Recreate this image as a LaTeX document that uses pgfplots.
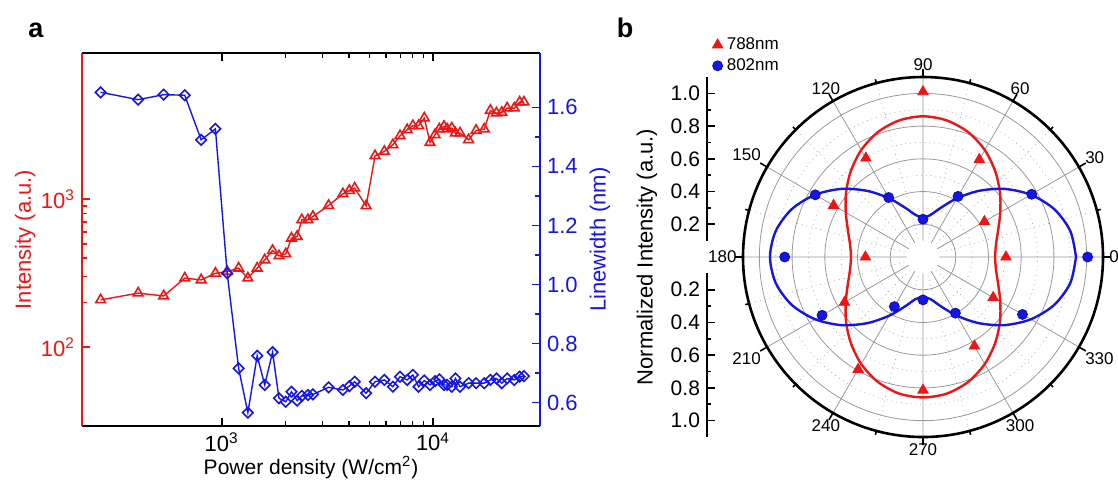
\documentclass[border=0pt]{standalone}
\usepackage{fontspec}
\setmainfont{Liberation Sans}
\usepackage{pgfplots}
\pgfplotsset{compat=1.18}
\usepackage{pgfplotstable}
\usepgfplotslibrary{polar}
\definecolor{ired}{HTML}{EE1515}
\definecolor{lblue}{HTML}{1515E6}

% panel a: power density, intensity (log), linewidth
\pgfplotstableread{
P I W
267 209 1.651
402 232 1.626
531 222 1.643
668 293 1.641
799 285 1.490
933 316 1.527
1061 325 1.038
1202 342 0.716
1329 293 0.566
1471 342 0.759
1597 389 0.660
1740 450 0.771
1866 414 0.615
2009 427 0.603
2138 545 0.637
2275 560 0.607
2393 725 0.623
2557 725 0.626
2701 764 0.628
3204 906 0.652
3745 1086 0.643
4017 1144 0.656
4257 1187 0.671
4823 901 0.632
5316 1963 0.671
5882 2099 0.677
6457 2329 0.654
6980 2679 0.688
7547 2941 0.677
8028 3130 0.694
8545 3130 0.654
9093 3527 0.675
9678 2414 0.660
10221 2721 0.673
10708 2972 0.679
11264 3097 0.660
11664 2972 0.660
12271 3018 0.654
12762 2792 0.682
13421 2792 0.654
14736 2518 0.666
15986 2911 0.666
17482 2972 0.666
18683 3974 0.677
19962 3811 0.682
21162 3851 0.666
22434 4118 0.682
24244 4118 0.677
25707 4522 0.688
26942 4522 0.690
}\powertab

% panel b: measured points
\pgfplotstableread{
a r
0 0.507
30 0.433
60 0.688
90 1.01
120 0.698
150 0.631
180 0.352
210 0.554
240 0.793
270 0.814
300 0.628
330 0.495
}\redpts
\pgfplotstableread{
a r
0 1.006
30 0.767
60 0.428
90 0.231
120 0.420
150 0.760
180 0.845
210 0.712
240 0.350
270 0.262
300 0.396
330 0.702
}\bluepts

% panel b: fitted curves, every 10 degrees
\pgfplotstableread{
a r
0 0.440
10 0.453
20 0.489
30 0.545
40 0.614
50 0.686
60 0.755
70 0.811
80 0.847
90 0.860
100 0.847
110 0.811
120 0.755
130 0.686
140 0.614
150 0.545
160 0.489
170 0.453
180 0.440
190 0.453
200 0.489
210 0.545
220 0.614
230 0.686
240 0.755
250 0.811
260 0.847
270 0.858
280 0.847
290 0.811
300 0.755
310 0.686
320 0.614
330 0.545
340 0.489
350 0.453
360 0.440
}\redfit
\pgfplotstableread{
a r
0 0.935
10 0.914
20 0.854
30 0.761
40 0.648
50 0.527
60 0.414
70 0.321
80 0.261
90 0.240
100 0.261
110 0.321
120 0.414
130 0.527
140 0.648
150 0.761
160 0.854
170 0.914
180 0.935
190 0.914
200 0.854
210 0.761
220 0.648
230 0.527
240 0.414
250 0.321
260 0.261
270 0.245
280 0.261
290 0.321
300 0.414
310 0.527
320 0.648
330 0.761
340 0.854
350 0.914
360 0.935
}\bluefit

\tikzset{
  ticklbl/.style={font=\fontsize{11}{12}\selectfont},
  lbl/.style={font=\fontsize{11}{13}\selectfont},
}

\begin{document}
\begin{tikzpicture}
\useasboundingbox (0,0) rectangle (559pt,-239.5pt);

\node[font=\fontsize{13.5}{15}\selectfont\bfseries] at (18pt,-15pt) {a};
\node[font=\fontsize{13.5}{15}\selectfont\bfseries] at (312.5pt,-14pt) {b};

% ---- panel a, left axis (intensity)
\begin{axis}[
  at={(41pt,-213pt)}, anchor=south west, scale only axis,
  width=229pt, height=186.5pt,
  xmode=log, ymode=log, xmin=218, xmax=32100, ymin=29.4, ymax=9700,
  axis x line*=box, axis y line*=left,
  x axis line style={black, line width=1.3pt},
  y axis line style={ired, line width=1.3pt},
  tick align=inside, major tick length=4pt, minor tick length=2.5pt,
  x tick style={black, line width=0.8pt},
  y tick style={ired, line width=0.8pt},
  xtick={1000,10000}, xticklabels={10\textsuperscript{3},10\textsuperscript{4}},
  ytick={100,1000}, yticklabels={10\textsuperscript{2},10\textsuperscript{3}},
  tick label style={ticklbl}, yticklabel style={ired},
  xticklabel style={inner sep=0.5pt, yshift=-2.5pt},
  xlabel={Power density (W/cm\textsuperscript{2})},
  xlabel style={font=\fontsize{10.5}{12}\selectfont, inner sep=0pt, at={(axis description cs:0.5,-0.112)}, anchor=center},
  ylabel={Intensity (a.u.)},
  ylabel style={lbl, ired, at={(axis description cs:-0.124,0.5)}, anchor=center, rotate=0},
]
\addplot[ired, line width=0.7pt, mark=triangle, mark size=2.8pt,
  mark options={line width=0.8pt}] table[x=P, y=I] {\powertab};
\end{axis}

% ---- panel a, right axis (linewidth)
\begin{axis}[
  at={(41pt,-213pt)}, anchor=south west, scale only axis,
  width=229pt, height=186.5pt,
  xmode=log, xmin=218, xmax=32100, ymin=0.521, ymax=1.784,
  axis x line=none, axis y line*=right,
  y axis line style={lblue, line width=1.3pt},
  tick align=inside, major tick length=4pt, minor tick length=2.5pt,
  y tick style={lblue, line width=0.8pt},
  ytick={0.6,0.8,1.0,1.2,1.4,1.6}, minor y tick num=1,
  yticklabel style={ticklbl, lblue, /pgf/number format/.cd, fixed, fixed zerofill, precision=1, assume math mode=true},
  ylabel={Linewidth (nm)},
  ylabel style={lbl, lblue, at={(axis description cs:1.131,0.5)}, anchor=center, rotate=0},
]
\addplot[lblue, line width=0.7pt, mark=square, mark size=1.85pt,
  mark options={rotate=45, line width=0.8pt}] table[x=P, y=W] {\powertab};
\end{axis}

% ---- panel b, polar plot
\begin{polaraxis}[
  at={(461.5pt,-128.5pt)}, anchor=center, scale only axis,
  width=180pt, height=180pt,
  ymin=0, ymax=1.1,
  xtick={0,30,...,330}, minor x tick num=1,
  ytick={0.2,0.4,0.6,0.8,1.0}, minor y tick num=1, yticklabels={},
  grid=both,
  major grid style={black!40, line width=0.4pt},
  minor grid style={black!35, dotted, line width=0.35pt},
  axis line style={black, line width=1.3pt},
  y axis line style={draw=none},
  tick align=inside, major tick length=4pt, minor tick length=2pt,
  x tick style={black, line width=0.8pt},
  y tick style={draw=none},
  xticklabel={\pgfmathprintnumber[assume math mode=true]{\tick}},
  xticklabel style={font=\fontsize{8.5}{10}\selectfont, anchor=\tick+180, inner sep=3pt},
  legend style={at={(-0.086,1.122)}, anchor=north west, draw=none, fill=none,
    font=\fontsize{8.5}{10}\selectfont, inner sep=0pt, row sep=-1pt},
  legend cell align=left,
]
\fill[white] (axis cs:0,0) circle[radius=8.18pt];
\addplot[ired, line width=1.2pt, smooth, forget plot] table[x=a, y=r] {\redfit};
\addplot[lblue, line width=1.2pt, smooth, forget plot] table[x=a, y=r] {\bluefit};
\addplot[only marks, ired, mark=triangle*, mark size=3pt] table[x=a, y=r] {\redpts};
\addlegendentry{788nm}
\addplot[only marks, mark=*, mark size=2.5pt,
  mark options={fill=lblue, draw=lblue!70!black, line width=0.4pt}] table[x=a, y=r] {\bluepts};
\addlegendentry{802nm}
\end{polaraxis}

% ---- panel b, radial scale (upper and lower halves)
\begin{axis}[
  at={(353.5pt,-120.32pt)}, anchor=south west, scale only axis,
  width=1pt, height=81.8pt, xmin=0, xmax=1, ymin=0.1, ymax=1.1,
  axis x line=none, axis y line*=left,
  y axis line style={black, line width=1.2pt},
  tick align=inside, major tick length=4pt, minor tick length=2pt,
  y tick style={black, line width=0.8pt},
  ytick={0.2,0.4,0.6,0.8,1.0}, minor y tick num=1,
  yticklabel style={font=\fontsize{10.5}{12}\selectfont, /pgf/number format/.cd, fixed, fixed zerofill, precision=1, assume math mode=true},
]
\end{axis}
\begin{axis}[
  at={(353.5pt,-136.68pt)}, anchor=north west, scale only axis,
  width=1pt, height=81.8pt, xmin=0, xmax=1, ymin=0.1, ymax=1.1, y dir=reverse,
  axis x line=none, axis y line*=left,
  y axis line style={black, line width=1.2pt},
  tick align=inside, major tick length=4pt, minor tick length=2pt,
  y tick style={black, line width=0.8pt},
  ytick={0.2,0.4,0.6,0.8,1.0}, minor y tick num=1,
  yticklabel style={font=\fontsize{10.5}{12}\selectfont, /pgf/number format/.cd, fixed, fixed zerofill, precision=1, assume math mode=true},
]
\end{axis}
\node[rotate=90, font=\fontsize{11}{13}\selectfont] at (323.5pt,-128.5pt) {Normalized Intensity (a.u.)};

\end{tikzpicture}
\end{document}
